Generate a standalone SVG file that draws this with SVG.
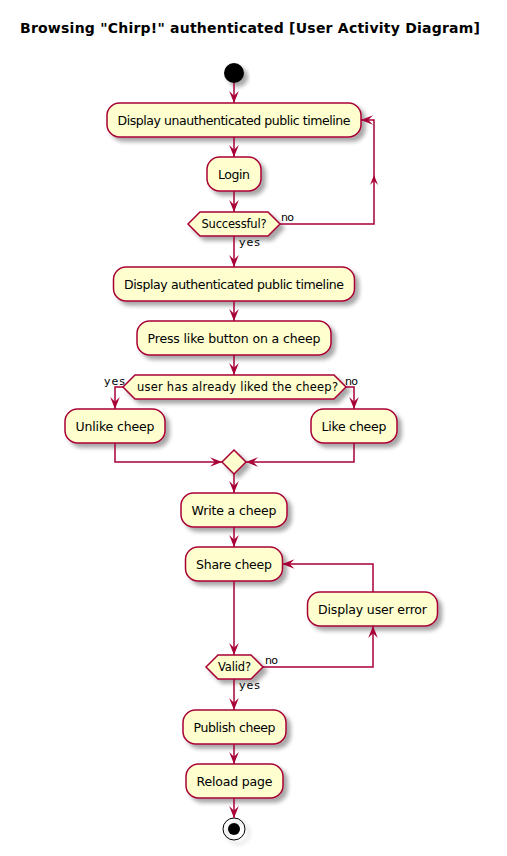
<svg xmlns="http://www.w3.org/2000/svg" width="507" height="856" viewBox="0 0 507 856">
<defs>
<filter id="sh" x="-20%" y="-20%" width="150%" height="180%">
<feGaussianBlur in="SourceAlpha" stdDeviation="2"/>
<feOffset dx="4" dy="4" result="o"/>
<feComponentTransfer><feFuncA type="linear" slope="0.35"/></feComponentTransfer>
<feMerge><feMergeNode/><feMergeNode in="SourceGraphic"/></feMerge>
</filter>
<marker id="ah" markerUnits="userSpaceOnUse" markerWidth="12" markerHeight="10" refX="10" refY="4" orient="auto" viewBox="0 0 10 8">
<path d="M0,0 L10,4 L0,8 L4,4 Z" fill="#A80036"/>
</marker>
<style>
.n rect, .n polygon{fill:#FEFECE;stroke:#A80036;stroke-width:1.5;filter:url(#sh)}
.t{font-family:"DejaVu Sans",sans-serif;font-size:12.5px;fill:#000}
.d{font-family:"DejaVu Sans",sans-serif;font-size:11.5px;fill:#000}
.l{font-family:"DejaVu Sans",sans-serif;font-size:11px;fill:#000}
.e{fill:none;stroke:#A80036;stroke-width:1.5}
.e path{marker-end:url(#ah)}
.ah{fill:#A80036}
</style>
</defs>
<rect width="507" height="856" fill="#FFFFFF"/>
<text x="20" y="33" textLength="460" style="font-family:'DejaVu Sans',sans-serif;font-size:14px;font-weight:bold">Browsing "Chirp!" authenticated [User Activity Diagram]</text>

<g id="start"><circle cx="234" cy="73" r="10" fill="#000" filter="url(#sh)"/></g>

<g id="n1" class="n"><rect x="107" y="103" width="254" height="34" rx="12.5"/><text class="t" x="117.5" y="125" textLength="233">Display unauthenticated public timeline</text></g>
<g id="n2" class="n"><rect x="207" y="157" width="54" height="34" rx="12.5"/><text class="t" x="218" y="179" textLength="32">Login</text></g>
<g id="d1" class="n"><polygon points="188,224 200,212 268,212 280,224 268,236 200,236"/><text class="d" x="201.5" y="228" textLength="65">Successful?</text></g>
<g id="n3" class="n"><rect x="113.5" y="267" width="241" height="34" rx="12.5"/><text class="t" x="124" y="289" textLength="220">Display authenticated public timeline</text></g>
<g id="n4" class="n"><rect x="137" y="321" width="194" height="34" rx="12.5"/><text class="t" x="147.5" y="343" textLength="173">Press like button on a cheep</text></g>
<g id="d2" class="n"><polygon points="123,387 135,375 334,375 346,387 334,399 135,399"/><text class="d" x="137" y="391" textLength="201">user has already liked the cheep?</text></g>
<g id="n5" class="n"><rect x="65" y="409" width="100" height="34" rx="12.5"/><text class="t" x="75.5" y="431" textLength="79">Unlike cheep</text></g>
<g id="n6" class="n"><rect x="311" y="409" width="86" height="34" rx="12.5"/><text class="t" x="321.5" y="431" textLength="65">Like cheep</text></g>
<g id="m1" class="n"><polygon points="234,450 246,462 234,474 222,462"/></g>
<g id="n7" class="n"><rect x="181" y="493" width="106" height="34" rx="12.5"/><text class="t" x="191.5" y="515" textLength="85">Write a cheep</text></g>
<g id="n8" class="n"><rect x="185.5" y="547" width="97" height="34" rx="12.5"/><text class="t" x="196" y="569" textLength="76">Share cheep</text></g>
<g id="n9" class="n"><rect x="307.5" y="592" width="130" height="34" rx="12.5"/><text class="t" x="318" y="614" textLength="109">Display user error</text></g>
<g id="d3" class="n"><polygon points="206,667 218,655 251,655 263,667 251,679 218,679"/><text class="d" x="218" y="671" textLength="33">Valid?</text></g>
<g id="n10" class="n"><rect x="183" y="710" width="103" height="34" rx="12.5"/><text class="t" x="193.5" y="732" textLength="82">Publish cheep</text></g>
<g id="n11" class="n"><rect x="186" y="764" width="97" height="34" rx="12.5"/><text class="t" x="196.5" y="786" textLength="76">Reload page</text></g>
<g id="end"><circle cx="234" cy="829" r="11" fill="none" stroke="#000" stroke-width="1" filter="url(#sh)"/><circle cx="234" cy="829" r="6" fill="#000"/></g>

<g id="edges" class="e">
<path d="M234,83 V103"/>
<path d="M234,137 V157"/>
<path d="M234,191 V212"/>
<path d="M280,224 H374 V120 H361"/>
<polygon class="ah" points="374,175 370,185 374,181 378,185" stroke="none"/>
<path d="M234,236 V267"/>
<path d="M234,301 V321"/>
<path d="M234,355 V375"/>
<path d="M123,387 H115 V409"/>
<path d="M346,387 H354 V409"/>
<path d="M115,443 V462 H222"/>
<path d="M354,443 V462 H246"/>
<path d="M234,474 V493"/>
<path d="M234,527 V547"/>
<path d="M234,581 V655"/>
<path d="M263,667 H373 V626"/>
<path d="M373,592 V564 H282.5"/>
<path d="M234,679 V710"/>
<path d="M234,744 V764"/>
<path d="M234,798 V818"/>
</g>
<g id="labels">
<text class="l" x="281" y="221" textLength="13">no</text>
<text class="l" x="239" y="246" textLength="21">yes</text>
<text class="l" x="104" y="385" textLength="21">yes</text>
<text class="l" x="345" y="385" textLength="13">no</text>
<text class="l" x="265" y="664" textLength="13">no</text>
<text class="l" x="239" y="689" textLength="21">yes</text>
</g>
</svg>
